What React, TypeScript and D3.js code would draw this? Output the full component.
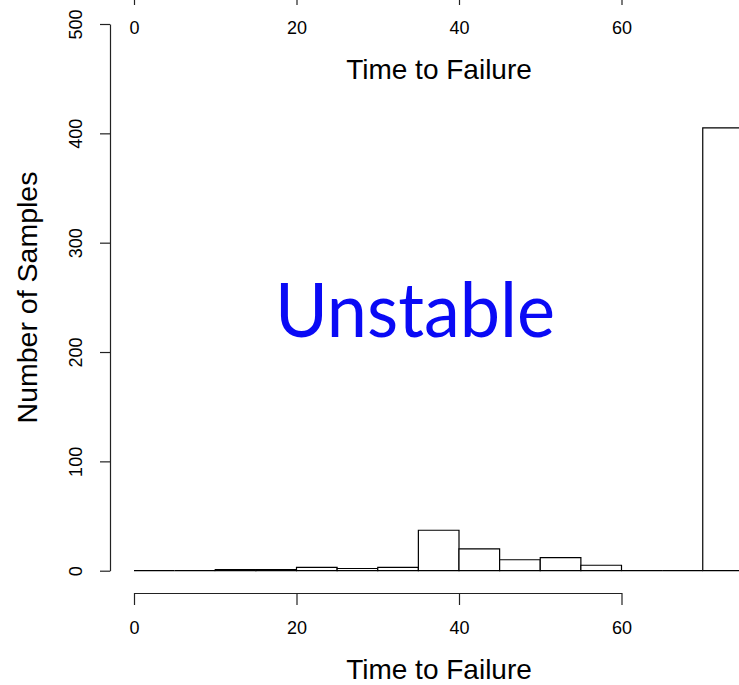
import React from 'react';
import * as d3 from 'd3';

// histogram bins (width 5) and counts
const binStarts = [0, 5, 10, 15, 20, 25, 30, 35, 40, 45, 50, 55, 60, 65, 70];
const binCounts = [0, 0, 1, 1, 3, 2, 3, 37, 20, 10, 12, 5, 0, 0, 405];
const xTicks = [0, 20, 40, 60];
const yTicks = [0, 100, 200, 300, 400, 500];

export default function App() {
    const container = React.useRef<SVGSVGElement>(null);

    const width = 739;
    const height = 685;
    const binWidth = 5;

    const x = d3.scaleLinear().domain([0, 60]).range([134, 621.5]);
    const y = d3.scaleLinear().domain([0, 500]).range([570.7, 24]);

    React.useEffect(() => {
        if (!container.current) return;
        const svg = d3.select(container.current);
        svg.selectAll('*').remove();

        const font = 'Liberation Sans, Arial, Helvetica, sans-serif';

        // bars (paths so that empty bins still show as a line on the baseline)
        svg.append('g')
            .selectAll('path')
            .data(binStarts.map((s, i) => ({ s, n: binCounts[i] })))
            .enter()
            .append('path')
            .attr('d', d => {
                const x0 = x(d.s), x1 = x(d.s + binWidth), y0 = y(0), y1 = y(d.n);
                return `M${x0},${y0}V${y1}H${x1}V${y0}Z`;
            })
            .attr('fill', 'white')
            .attr('stroke', 'black')
            .attr('stroke-width', 1.2);

        // x axes: the bottom one and a copy from the plot above (shifted up)
        const drawXAxis = (offset: number) => {
            const axisY = 593 + offset;
            const g = svg.append('g')
                .attr('transform', `translate(0,${axisY})`)
                .call(d3.axisBottom(x).tickValues(xTicks).tickSize(12).tickSizeOuter(0).tickPadding(16).tickFormat(d3.format('d')));
            g.select('.domain').attr('stroke', '#222').attr('stroke-width', 1.2);
            g.selectAll('.tick line').attr('stroke', '#222').attr('stroke-width', 1.2);
            g.selectAll('.tick text').attr('font-family', font).attr('font-size', 18).attr('fill', 'black');
            svg.append('text')
                .attr('x', 439)
                .attr('y', 679 + offset)
                .attr('text-anchor', 'middle')
                .attr('font-family', font)
                .attr('font-size', 28)
                .text('Time to Failure');
        };
        drawXAxis(0);
        drawXAxis(-600);

        // y axis
        const yAxis = svg.append('g')
            .attr('transform', 'translate(110,0)')
            .call(d3.axisLeft(y).tickValues(yTicks).tickSize(10).tickSizeOuter(0).tickFormat(d3.format('d')));
        yAxis.select('.domain').attr('stroke', '#222').attr('stroke-width', 1.2);
        yAxis.selectAll('.tick line').attr('stroke', '#222').attr('stroke-width', 1.2);
        yAxis.selectAll('.tick text')
            .attr('x', null)
            .attr('dy', null)
            .attr('transform', 'translate(-28,0) rotate(-90)')
            .attr('text-anchor', 'middle')
            .attr('font-family', font)
            .attr('font-size', 18)
            .attr('fill', 'black');

        svg.append('text')
            .attr('transform', 'translate(37,297.5) rotate(-90)')
            .attr('text-anchor', 'middle')
            .attr('font-family', font)
            .attr('font-size', 28.5)
            .text('Number of Samples');

        // overlay label
        svg.append('text')
            .attr('x', 415)
            .attr('y', 337)
            .attr('text-anchor', 'middle')
            .attr('font-family', 'Lato, "Open Sans", sans-serif')
            .attr('font-size', 76)
            .attr('fill', '#0a0af5')
            .attr('textLength', 280)
            .attr('lengthAdjust', 'spacingAndGlyphs')
            .text('Unstable');
    }, []);

    return (
        <svg
            ref={container}
            width={width}
            height={height}
            style={{ position: 'absolute', left: 0, top: 0, background: 'white' }}
        />
    );
}
